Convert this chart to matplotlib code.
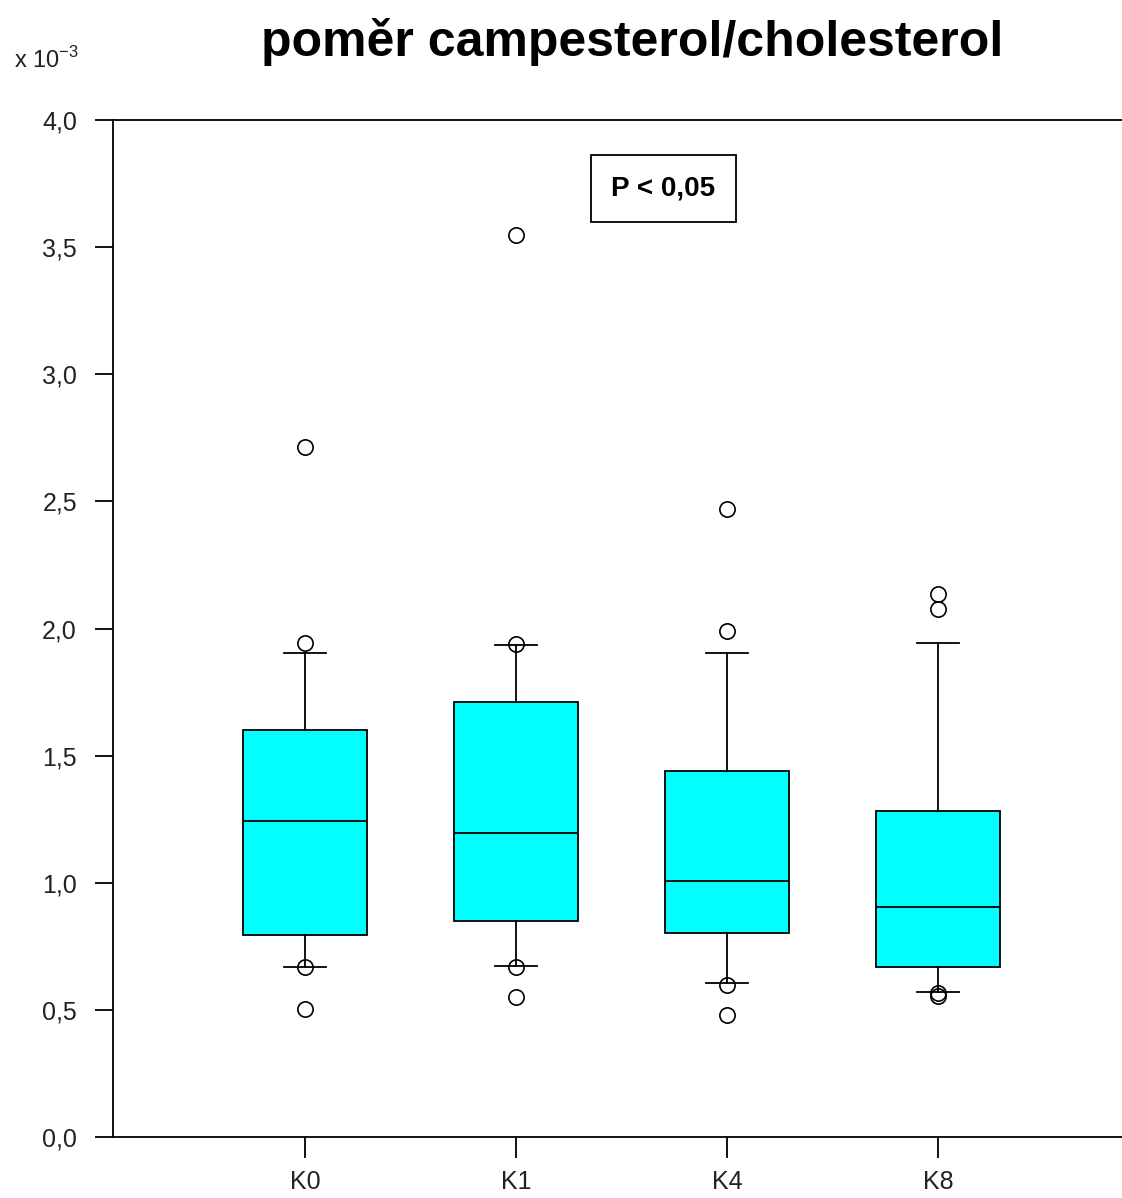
import matplotlib
matplotlib.use("Agg")
import matplotlib.pyplot as plt

plt.rcParams['font.family'] = ['Liberation Sans', 'DejaVu Sans']
plt.rcParams['mathtext.fontset'] = 'custom'
plt.rcParams['mathtext.rm'] = 'Liberation Sans'

# skupiny a statistiky boxplotu (hodnoty x 10^-3)
groups = ['K0', 'K1', 'K4', 'K8']
q1 = [0.794, 0.850, 0.802, 0.669]
median = [1.243, 1.196, 1.007, 0.905]
q3 = [1.601, 1.711, 1.440, 1.282]
whisker_low = [0.669, 0.673, 0.606, 0.570]
whisker_high = [1.904, 1.935, 1.904, 1.943]
outliers = [
    [2.714, 1.943, 0.667, 0.503],
    [3.548, 1.940, 0.667, 0.551],
    [2.470, 1.990, 0.598, 0.480],
    [2.136, 2.077, 0.565, 0.555],
]
y_ticks = [0.0, 0.5, 1.0, 1.5, 2.0, 2.5, 3.0, 3.5, 4.0]

stats = []
for i, g in enumerate(groups):
    stats.append({'label': g, 'q1': q1[i], 'med': median[i], 'q3': q3[i],
                  'whislo': whisker_low[i], 'whishi': whisker_high[i],
                  'fliers': outliers[i]})

fig = plt.figure(figsize=(11.22, 11.98), dpi=100)
ax = fig.add_axes([113 / 1122, 1 - 1137 / 1198, 1 - 113 / 1122 + 0.01, (1137 - 120) / 1198])

ax.bxp(stats, positions=[1, 2, 3, 4], widths=0.592, patch_artist=True,
       boxprops=dict(facecolor='#00ffff', edgecolor='black', linewidth=1.3),
       medianprops=dict(color='black', linewidth=1.3),
       whiskerprops=dict(color='black', linewidth=1.3),
       capprops=dict(color='black', linewidth=1.3),
       capwidths=0.2,
       flierprops=dict(marker='o', markerfacecolor='none', markeredgecolor='black',
                       markersize=11, markeredgewidth=1.2))

ax.set_xlim(0.09, 4.872 + 0.01 * 1122 / 211)
ax.set_ylim(0, 4.0)
ax.set_yticks(y_ticks)
ax.set_yticklabels([f'{v:.1f}'.replace('.', ',') for v in y_ticks])
ax.set_xticks([1, 2, 3, 4])
ax.set_xticklabels(groups)
ax.spines['right'].set_visible(False)
for s in ['left', 'bottom', 'top']:
    ax.spines[s].set_linewidth(1.3)
ax.tick_params(axis='both', direction='out', width=1.3,
               labelsize=18, colors='black', labelcolor='#222222')
ax.tick_params(axis='y', length=13, pad=13)
ax.tick_params(axis='x', length=15, pad=9)

fig.text(632 / 1122, 1 - 42 / 1198, 'poměr campesterol/cholesterol',
         ha='center', va='center', fontsize=36, fontweight='bold')
fig.text(14 / 1122, 1 - 60 / 1198, r'x $10^{-3}$', ha='left', va='center',
         fontsize=17, color='#222222')
fig.text(663.5 / 1122, 1 - 188.5 / 1198, 'P < 0,05', ha='center', va='center',
         fontsize=20, fontweight='bold',
         bbox=dict(boxstyle='square,pad=0.75', facecolor='white', edgecolor='black',
                   linewidth=1.3))

fig.savefig('out.png', dpi=100)
